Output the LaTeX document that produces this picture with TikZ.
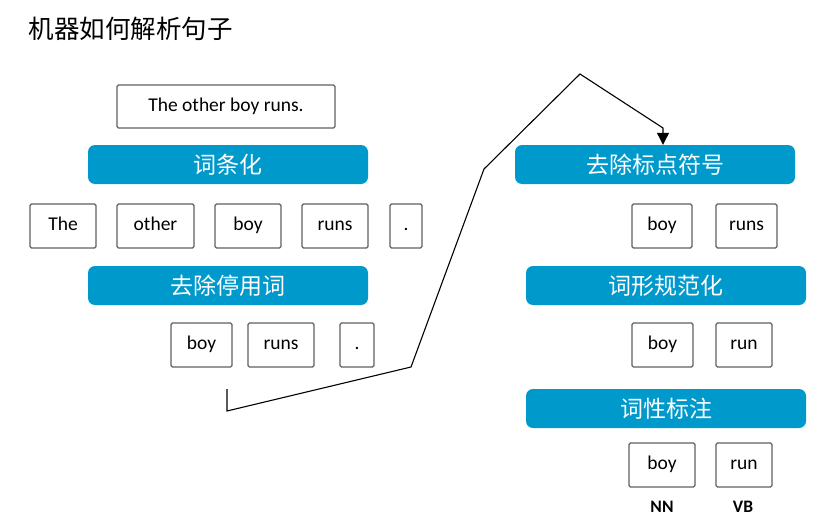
\documentclass[tikz,border=0pt]{standalone}
\usepackage{fontspec}
\setmainfont{Carlito}
\newfontfamily\cjk{Noto Sans CJK SC}
\usetikzlibrary{arrows.meta}
\definecolor{barblue}{HTML}{0099CC}
\definecolor{boxgray}{HTML}{606060}
\tikzset{
  wbox/.style={draw=boxgray, line width=1.3pt, rounded corners=1.5pt, fill=white,
    minimum height=44pt, inner sep=0pt, text height=13.3pt, text depth=4.3pt,
    font=\fontsize{19.5}{22}\selectfont, text=black},
  bar/.style={fill=barblue, rounded corners=7pt, minimum width=280pt, minimum height=39pt,
    inner sep=0pt, text=white, font=\cjk\fontsize{23}{27}\selectfont},
  tag/.style={font=\bfseries\fontsize{17.5}{20}\selectfont},
  conn/.style={line width=1.1pt, black}
}
\begin{document}
\begin{tikzpicture}[x=1pt,y=-1pt]
\useasboundingbox (0,0) rectangle (833,522);
\node[anchor=west, font=\cjk\fontsize{25.5}{30}\selectfont] (title) at (25,29) {机器如何解析句子};
% left column
\node[wbox, minimum width=218pt, minimum height=43pt] (sent) at (226,106.5) {The other boy runs.};
\node[bar] (tok) at (228,164.5) {词条化};
\node[wbox, minimum width=66pt] (t1) at (63,226) {The};
\node[wbox, minimum width=77pt] (t2) at (155.5,226) {other};
\node[wbox, minimum width=66pt] (t3) at (248,226) {boy};
\node[wbox, minimum width=66pt] (t4) at (335,226) {runs};
\node[wbox, minimum width=32pt] (t5) at (406,226) {.};
\node[bar] (stop) at (228,285.5) {去除停用词};
\node[wbox, minimum width=61pt] (s1) at (201.5,345) {boy};
\node[wbox, minimum width=66pt] (s2) at (281,345) {runs};
\node[wbox, minimum width=34pt] (s3) at (357,345) {.};
% right column
\node[bar] (punct) at (655,164.5) {去除标点符号};
\node[wbox, minimum width=60pt] (p1) at (662,226) {boy};
\node[wbox, minimum width=61pt] (p2) at (746.5,226) {runs};
\node[bar] (norm) at (666,285.5) {词形规范化};
\node[wbox, minimum width=61pt] (n1) at (662.5,345) {boy};
\node[wbox, minimum width=56pt] (n2) at (744,345) {run};
\node[bar] (pos) at (666,408.5) {词性标注};
\node[wbox, minimum width=66pt] (q1) at (662,465) {boy};
\node[wbox, minimum width=56pt] (q2) at (744,465) {run};
\node[tag] (nn) at (662,507) {NN};
\node[tag] (vb) at (743,507) {VB};
% connector
\coordinate (c0) at (227,389);
\coordinate (c1) at (227,411);
\coordinate (c2) at (411,367);
\coordinate (c3) at (484,169);
\coordinate (c4) at (580,74);
\coordinate (c5) at (663,128);
\draw[conn, -{Triangle[width=12pt,length=12pt]}] (c0) -- (c1) -- (c2) -- (c3) -- (c4) -- (c5) -- (c5 |- punct.north);
\end{tikzpicture}
\end{document}
